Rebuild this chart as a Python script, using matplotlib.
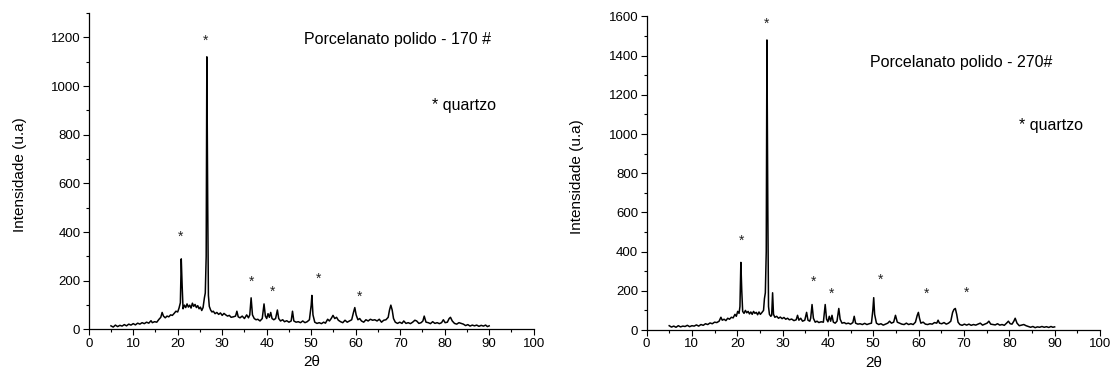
import matplotlib
matplotlib.use("Agg")
import matplotlib.pyplot as plt
from matplotlib.ticker import MultipleLocator

plt.rcParams['font.family'] = ['Liberation Sans', 'DejaVu Sans']

# ---------------- data: Porcelanato polido - 170 # ----------------
two_theta_170 = [
    5.0, 5.5, 6.0, 6.5, 7.0, 7.5, 8.0, 8.5, 9.0, 9.5, 10.0, 10.5, 11.0, 11.5, 12.0, 12.5,
    13.0, 13.5, 14.0, 14.3, 14.8, 15.3, 15.8, 16.2, 16.5, 16.8, 17.2, 17.6, 18.0, 18.4, 18.8,
    19.2, 19.6, 20.0, 20.3, 20.6, 20.8, 21.0, 21.2, 21.5, 21.8, 22.1, 22.4, 22.7, 23.0, 23.3,
    23.6, 23.9, 24.2, 24.5, 24.8, 25.1, 25.4, 25.7, 26.0, 26.2, 26.4, 26.55, 26.75, 26.9, 27.1,
    27.4, 27.7, 28.0, 28.4, 28.8, 29.2, 29.6, 30.0, 30.4, 30.8, 31.2, 31.6, 32.0, 32.5, 33.0,
    33.3, 33.6, 34.0, 34.5, 35.0, 35.5, 35.9, 36.2, 36.5, 36.8, 37.2, 37.6, 38.0, 38.5, 39.0,
    39.4, 39.7, 40.0, 40.3, 40.6, 40.9, 41.2, 41.6, 42.0, 42.4, 42.7, 43.1, 43.6, 44.0, 44.5,
    45.0, 45.5, 45.8, 46.1, 46.6, 47.1, 47.6, 48.1, 48.6, 49.1, 49.6, 50.0, 50.15, 50.4, 50.8,
    51.3, 51.8, 52.3, 52.8, 53.2, 53.7, 54.1, 54.5, 54.9, 55.3, 55.7, 56.1, 56.6, 57.1, 57.6,
    58.1, 58.6, 59.1, 59.5, 59.8, 60.1, 60.5, 60.9, 61.3, 61.8, 62.3, 62.8, 63.3, 63.8, 64.3,
    64.8, 65.3, 65.8, 66.3, 66.8, 67.3, 67.6, 67.9, 68.2, 68.5, 68.9, 69.4, 69.9, 70.4, 70.8,
    71.3, 71.8, 72.3, 72.8, 73.3, 73.7, 74.2, 74.7, 75.1, 75.4, 75.8, 76.3, 76.8, 77.3, 77.8,
    78.3, 78.8, 79.3, 79.7, 80.1, 80.6, 81.0, 81.3, 81.7, 82.2, 82.7, 83.2, 83.7, 84.2, 84.7,
    85.2, 85.7, 86.2, 86.7, 87.2, 87.7, 88.2, 88.7, 89.2, 89.6, 90.0]
intensity_170 = [
    15, 10, 18, 12, 17, 14, 20, 15, 22, 18, 24, 19, 26, 22, 28, 24,
    30, 26, 36, 28, 32, 30, 42, 50, 70, 55, 48, 55, 52, 60, 58,
    66, 75, 72, 88, 110, 290, 180, 85, 100, 90, 105, 92, 100, 88, 108,
    95, 103, 90, 98, 85, 92, 78, 90, 130, 150, 300, 1120, 500, 140, 95,
    80, 72, 75, 65, 70, 62, 68, 58, 66, 60, 55, 58, 50, 52, 55,
    75, 52, 48, 55, 45, 60, 48, 60, 130, 60, 45, 40, 42, 35, 45,
    105, 55, 45, 65, 50, 70, 45, 40, 45, 80, 45, 35, 40, 32, 36,
    30, 35, 75, 35, 30, 32, 28, 35, 28, 32, 40, 100, 140, 60, 30,
    25, 28, 24, 30, 26, 42, 35, 45, 58, 45, 50, 38, 32, 28, 38,
    30, 35, 40, 70, 90, 60, 40, 45, 35, 30, 40, 35, 42, 38, 40,
    35, 42, 30, 38, 40, 50, 80, 100, 80, 45, 30, 25, 30, 25, 35,
    25, 28, 24, 30, 38, 35, 25, 28, 35, 55, 30, 28, 24, 32, 25,
    28, 24, 28, 40, 28, 30, 45, 50, 35, 25, 22, 28, 25, 22, 16,
    20, 14, 18, 15, 18, 13, 17, 14, 18, 12, 15]

# ---------------- data: Porcelanato polido - 270# ----------------
two_theta_270 = [
    5.0, 5.5, 6.0, 6.5, 7.0, 7.5, 8.0, 8.5, 9.0, 9.5, 10.0, 10.5, 11.0, 11.5, 12.0, 12.5,
    13.0, 13.5, 14.0, 14.5, 15.0, 15.5, 16.0, 16.4, 16.7, 17.1, 17.5, 17.9, 18.3, 18.7, 19.1,
    19.5, 19.8, 20.1, 20.4, 20.6, 20.8, 21.0, 21.2, 21.5, 21.8, 22.1, 22.4, 22.7, 23.0, 23.3,
    23.6, 23.9, 24.2, 24.5, 24.8, 25.1, 25.4, 25.8, 26.0, 26.2, 26.4, 26.55, 26.75, 26.9, 27.1,
    27.4, 27.6, 27.8, 28.0, 28.3, 28.7, 29.1, 29.5, 29.9, 30.3, 30.7, 31.1, 31.5, 32.0, 32.5,
    33.0, 33.3, 33.6, 34.0, 34.4, 34.9, 35.3, 35.6, 36.0, 36.2, 36.5, 36.8, 37.2, 37.6, 38.0,
    38.5, 39.0, 39.4, 39.7, 40.0, 40.3, 40.6, 40.9, 41.2, 41.6, 42.0, 42.4, 42.7, 43.1, 43.6,
    44.0, 44.5, 45.0, 45.5, 45.8, 46.1, 46.6, 47.1, 47.6, 48.1, 48.6, 49.1, 49.6, 49.9, 50.1,
    50.3, 50.7, 51.2, 51.7, 52.2, 52.7, 53.2, 53.6, 54.0, 54.5, 54.9, 55.3, 55.8, 56.3, 56.8,
    57.3, 57.8, 58.3, 58.8, 59.3, 59.7, 59.95, 60.2, 60.5, 61.0, 61.5, 62.0, 62.5, 63.0, 63.5,
    64.0, 64.3, 64.6, 65.1, 65.6, 66.1, 66.6, 67.1, 67.5, 67.8, 68.1, 68.4, 68.7, 69.1, 69.6,
    70.1, 70.6, 71.1, 71.6, 72.1, 72.6, 73.1, 73.6, 74.1, 74.6, 75.1, 75.5, 75.9, 76.4, 76.9,
    77.4, 77.9, 78.4, 78.9, 79.4, 79.8, 80.2, 80.6, 81.0, 81.3, 81.7, 82.2, 82.7, 83.2, 83.7,
    84.2, 84.7, 85.2, 85.7, 86.2, 86.7, 87.2, 87.7, 88.2, 88.7, 89.2, 89.6, 90.0]
intensity_270 = [
    22, 15, 20, 14, 22, 16, 20, 18, 24, 17, 22, 20, 26, 20, 28, 24,
    32, 28, 36, 32, 40, 38, 45, 65, 50, 55, 48, 60, 55, 65, 62,
    80, 70, 95, 85, 120, 345, 200, 95, 85, 100, 88, 95, 82, 92, 80,
    95, 85, 90, 78, 92, 80, 88, 100, 160, 190, 400, 1480, 600, 120, 80,
    70, 75, 190, 80, 65, 70, 60, 66, 58, 64, 55, 60, 52, 56, 48,
    52, 75, 50, 60, 45, 50, 90, 50, 45, 60, 130, 60, 40, 45, 38,
    42, 40, 130, 55, 42, 70, 45, 75, 40, 35, 45, 110, 55, 35, 38,
    32, 35, 30, 38, 70, 35, 30, 32, 28, 34, 28, 32, 35, 100, 165,
    80, 35, 28, 32, 25, 30, 35, 45, 35, 40, 75, 40, 35, 30, 28,
    35, 28, 32, 28, 40, 75, 90, 60, 35, 40, 30, 28, 32, 30, 38,
    35, 50, 35, 32, 38, 30, 35, 45, 90, 105, 110, 80, 40, 28, 24,
    30, 25, 30, 24, 28, 25, 30, 35, 25, 30, 35, 45, 30, 28, 26,
    32, 25, 28, 24, 35, 45, 32, 30, 45, 60, 35, 22, 25, 28, 22,
    18, 14, 18, 12, 16, 14, 18, 14, 17, 13, 18, 14, 16]

# quartz marker positions (2theta, intensity)
stars_170_x = [20.6, 26.3, 36.5, 41.2, 51.7, 60.8]
stars_170_y = [380, 1185, 195, 155, 210, 135]
stars_270_x = [21.0, 26.5, 36.9, 40.7, 51.5, 61.7, 70.5]
stars_270_y = [455, 1565, 245, 185, 255, 185, 190]

titles = ["Porcelanato polido - 170 #", "Porcelanato polido - 270#"]
legend_text = "* quartzo"

fig = plt.figure(figsize=(11.13, 3.76), dpi=100)
ax1 = fig.add_axes([0.0797, 0.1237, 0.3998, 0.8417])
ax2 = fig.add_axes([0.5809, 0.1223, 0.4074, 0.8340])

panels = [
    (ax1, two_theta_170, intensity_170, stars_170_x, stars_170_y, 1300, titles[0],
     (48.4, 1192), (77.2, 922)),
    (ax2, two_theta_270, intensity_270, stars_270_x, stars_270_y, 1600, titles[1],
     (49.3, 1366), (82.2, 1046)),
]

for ax, xs, ys, sx, sy, ytop, title, tpos, qpos in panels:
    ax.plot(xs, ys, color='black', lw=1.1)
    for x, y in zip(sx, sy):
        ax.text(x, y, "*", ha='center', va='center', fontsize=10, color='#222222')
    ax.text(tpos[0], tpos[1], title, ha='left', va='center', fontsize=11.5)
    ax.text(qpos[0], qpos[1], legend_text, ha='left', va='center', fontsize=11.5)
    ax.set_xlim(0, 100)
    ax.set_ylim(0, ytop)
    ax.xaxis.set_major_locator(MultipleLocator(10))
    ax.xaxis.set_minor_locator(MultipleLocator(5))
    ax.yaxis.set_major_locator(MultipleLocator(200))
    ax.yaxis.set_minor_locator(MultipleLocator(100))
    ax.tick_params(which='major', direction='out', length=4, width=0.8, labelsize=9.5, pad=2)
    ax.tick_params(which='minor', direction='out', length=2.5, width=0.8)
    ax.spines['top'].set_visible(False)
    ax.spines['right'].set_visible(False)
    for s in ('left', 'bottom'):
        ax.spines[s].set_linewidth(0.9)
    ax.set_xlabel("2θ", fontsize=11, labelpad=4)
    ax.set_ylabel("Intensidade (u.a)", fontsize=11)
    ax.yaxis.set_label_coords(-0.139, 0.49)

fig.savefig("out.png", dpi=100)
